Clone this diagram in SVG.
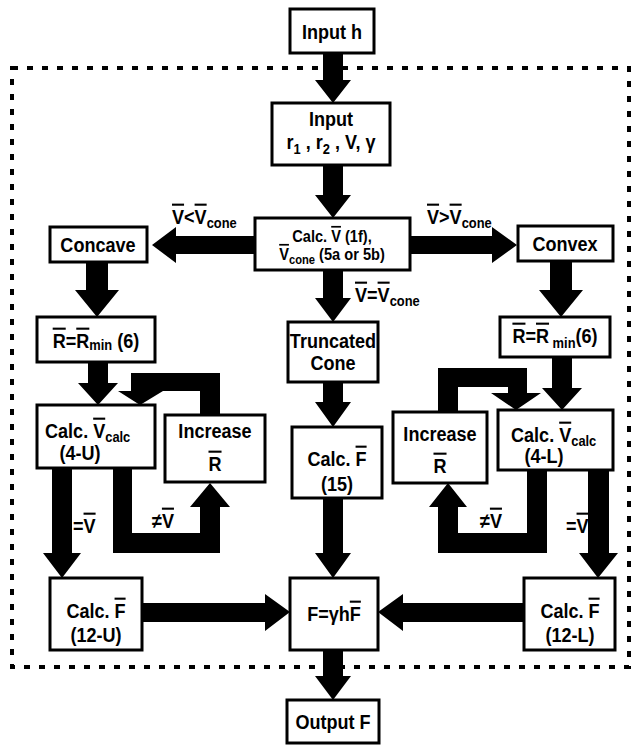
<svg xmlns="http://www.w3.org/2000/svg" width="632" height="746" viewBox="0 0 632 746">
<style>
.box{fill:#fff;stroke:#000;stroke-width:3}
.t{font-family:"Liberation Sans",Arial,Helvetica,sans-serif;font-weight:bold;font-size:21px;fill:#000}
.m{text-anchor:middle}
.s{font-size:17px}
.sub{font-size:15px}
.ssub{font-size:13px}
.ov{text-decoration:overline}
.arr{fill:#000;stroke:none}
.dot{fill:none;stroke:#000;stroke-width:4;stroke-dasharray:6 9}
</style>
<rect width="632" height="746" fill="#fff"/>
<rect class="dot" x="12" y="68" width="617" height="599"/>

<g id="connectors">
  <polygon class="arr" points="323,53 343,53 343,80 351,80 333,103 315,80 323,80"/>
  <polygon class="arr" points="323,165 343,165 343,195 351,195 333,218 315,195 323,195"/>
  <polygon class="arr" points="255,236 176,236 176,227 152,245 176,263 176,254 255,254"/>
  <polygon class="arr" points="410,236 492,236 492,227 517,245 492,263 492,254 410,254"/>
  <polygon class="arr" points="323,270 343,270 343,298 351,298 333,322 315,298 323,298"/>
  <polygon class="arr" points="323,382 343,382 343,402 351,402 333,427 315,402 323,402"/>
  <polygon class="arr" points="323,498 343,498 343,553 351,553 333,578 315,553 323,553"/>
  <polygon class="arr" points="323,650 343,650 343,676 351,676 333,700 315,676 323,676"/>
  <polygon class="arr" points="86,262 108,262 108,290 119,290 97,317 75,290 86,290"/>
  <polygon class="arr" points="550,261 572,261 572,290 583,290 561,317 539,290 550,290"/>
  <polygon class="arr" points="88,362 108,362 108,383 118,383 98,405 78,383 88,383"/>
  <polygon class="arr" points="552,357 572,357 572,388 582,388 562,410 542,388 552,388"/>
  <polygon class="arr" points="131,373 220,373 220,415 200,415 200,391 163,391 140,405 118,391 131,391"/>
  <polygon class="arr" points="438,412 438,368 527,368 527,393 541,393 516,410 491,393 508,393 508,387 458,387 458,412"/>
  <polygon class="arr" points="113,468 132,468 132,533 200,533 200,507 190,507 210,483 230,507 220,507 220,553 113,553"/>
  <polygon class="arr" points="52,468 72,468 72,553 81,553 62,578 43,553 52,553"/>
  <polygon class="arr" points="547,470 527,470 527,533 458,533 458,507 467,507 448,483 429,507 438,507 438,553 547,553"/>
  <polygon class="arr" points="588,470 609,470 609,553 618,553 598,578 579,553 588,553"/>
  <polygon class="arr" points="142,603 265,603 265,594 290,612 265,631 265,622 142,622"/>
  <polygon class="arr" points="524,603 403,603 403,594 378,612 403,631 403,622 524,622"/>
  <text class="t" transform="translate(172,224) scale(.86,1)"><tspan class="ov">V</tspan>&lt;<tspan class="ov">V</tspan><tspan class="sub" dy="4">cone</tspan></text>
  <text class="t" transform="translate(427,224) scale(.86,1)"><tspan class="ov">V</tspan>&gt;<tspan class="ov">V</tspan><tspan class="sub" dy="4">cone</tspan></text>
  <text class="t" transform="translate(355,302) scale(.86,1)"><tspan class="ov">V</tspan>=<tspan class="ov">V</tspan><tspan class="sub" dy="4">cone</tspan></text>
  <text class="t" transform="translate(152,528) scale(.86,1)">≠<tspan class="ov">V</tspan></text>
  <text class="t" transform="translate(73,533) scale(.86,1)">=<tspan class="ov">V</tspan></text>
  <text class="t" transform="translate(480,528) scale(.86,1)">≠<tspan class="ov">V</tspan></text>
  <text class="t" transform="translate(566,533) scale(.86,1)">=<tspan class="ov">V</tspan></text>
</g>

<g id="input-h">
  <rect class="box" x="290" y="9" width="84" height="44"/>
  <text class="t m" transform="translate(332,39) scale(.86,1)">Input h</text>
</g>
<g id="input">
  <rect class="box" x="272" y="103" width="118" height="62"/>
  <text class="t m" transform="translate(331,126) scale(.86,1)">Input</text>
  <text class="t m" transform="translate(331,149) scale(.86,1)">r<tspan class="sub" dy="5">1</tspan><tspan dy="-5"> , r</tspan><tspan class="sub" dy="5">2</tspan><tspan dy="-5"> , V, γ</tspan></text>
</g>
<g id="calc-v">
  <rect class="box" x="255" y="218" width="155" height="52"/>
  <text class="t s m" transform="translate(332,242) scale(.86,1)">Calc. <tspan class="ov">V</tspan> (1f),</text>
  <text class="t s m" transform="translate(332,260) scale(.86,1)"><tspan class="ov">V</tspan><tspan class="ssub" dy="4">cone</tspan><tspan dy="-4"> (5a or 5b)</tspan></text>
</g>
<g id="concave">
  <rect class="box" x="50" y="227" width="97" height="35"/>
  <text class="t m" transform="translate(98,252) scale(.86,1)">Concave</text>
</g>
<g id="convex">
  <rect class="box" x="518" y="226" width="95" height="35"/>
  <text class="t m" transform="translate(565,251) scale(.86,1)">Convex</text>
</g>
<g id="truncated-cone">
  <rect class="box" x="288" y="322" width="90" height="60"/>
  <text class="t m" transform="translate(333,348) scale(.86,1)">Truncated</text>
  <text class="t m" transform="translate(333,370) scale(.86,1)">Cone</text>
</g>
<g id="rmin-left">
  <rect class="box" x="37" y="317" width="118" height="45"/>
  <text class="t m" transform="translate(96,348) scale(.86,1)"><tspan class="ov">R</tspan>=<tspan class="ov">R</tspan><tspan class="sub" dy="2">min</tspan><tspan dy="-2"> (6)</tspan></text>
</g>
<g id="rmin-right">
  <rect class="box" x="500" y="317" width="110" height="40"/>
  <text class="t m" transform="translate(555,343) scale(.86,1)"><tspan class="ov">R</tspan>=<tspan class="ov">R</tspan><tspan class="sub" dy="5"> min</tspan><tspan dy="-5">(6)</tspan></text>
</g>
<g id="calc-vcalc-u">
  <rect class="box" x="37" y="405" width="118" height="63"/>
  <text class="t" transform="translate(45,438) scale(.86,1)">Calc. <tspan class="ov">V</tspan><tspan class="sub" dy="4">calc</tspan></text>
  <text class="t m" transform="translate(80,460) scale(.86,1)">(4-U)</text>
</g>
<g id="increase-left">
  <rect class="box" x="165" y="415" width="100" height="67"/>
  <text class="t m" transform="translate(215,438) scale(.86,1)">Increase</text>
  <text class="t m" transform="translate(215,471) scale(.86,1)"><tspan class="ov">R</tspan></text>
</g>
<g id="calc-f-15">
  <rect class="box" x="292" y="427" width="90" height="71"/>
  <text class="t m" transform="translate(337,466) scale(.86,1)">Calc. <tspan class="ov">F</tspan></text>
  <text class="t m" transform="translate(337,491) scale(.86,1)">(15)</text>
</g>
<g id="increase-right">
  <rect class="box" x="393" y="412" width="94" height="71"/>
  <text class="t m" transform="translate(440,441) scale(.86,1)">Increase</text>
  <text class="t m" transform="translate(440,473) scale(.86,1)"><tspan class="ov">R</tspan></text>
</g>
<g id="calc-vcalc-l">
  <rect class="box" x="498" y="410" width="115" height="60"/>
  <text class="t" transform="translate(511,442) scale(.86,1)">Calc. <tspan class="ov">V</tspan><tspan class="sub" dy="4">calc</tspan></text>
  <text class="t m" transform="translate(544,463) scale(.86,1)">(4-L)</text>
</g>
<g id="calc-f-12u">
  <rect class="box" x="50" y="578" width="92" height="72"/>
  <text class="t m" transform="translate(96,618) scale(.86,1)">Calc. <tspan class="ov">F</tspan></text>
  <text class="t m" transform="translate(96,642) scale(.86,1)">(12-U)</text>
</g>
<g id="f-eq">
  <rect class="box" x="290" y="578" width="88" height="72"/>
  <text class="t m" transform="translate(334,621) scale(.86,1)">F=γh<tspan class="ov">F</tspan></text>
</g>
<g id="calc-f-12l">
  <rect class="box" x="524" y="578" width="91" height="72"/>
  <text class="t m" transform="translate(570,618) scale(.86,1)">Calc. <tspan class="ov">F</tspan></text>
  <text class="t m" transform="translate(570,642) scale(.86,1)">(12-L)</text>
</g>
<g id="output-f">
  <rect class="box" x="287" y="700" width="92" height="43"/>
  <text class="t m" transform="translate(333,729) scale(.86,1)">Output F</text>
</g>
</svg>
